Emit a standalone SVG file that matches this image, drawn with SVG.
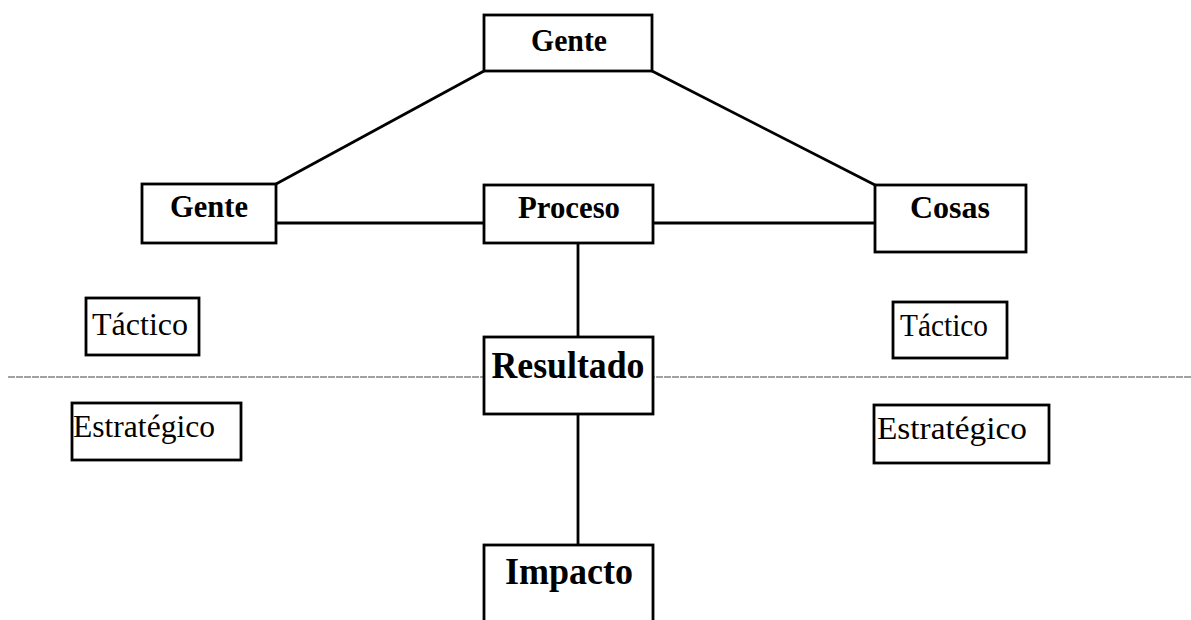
<svg xmlns="http://www.w3.org/2000/svg" width="1191" height="620" viewBox="0 0 1191 620">
<style>
.box{fill:#fff;stroke:#000;stroke-width:2.8}
.ln{stroke:#000;stroke-width:2.8;fill:none}
.sep{stroke:#444;stroke-width:1;stroke-dasharray:7 1}
.t{font-family:"Liberation Serif","Times New Roman",serif;font-weight:bold;text-anchor:middle;fill:#000}
.r{font-family:"Liberation Serif","Times New Roman",serif;text-anchor:middle;fill:#000;font-size:32px}
</style>
<rect width="1191" height="620" fill="#fff"/>
<line class="sep" x1="8" y1="377" x2="1191" y2="377"/>
<g id="connectors">
<line class="ln" x1="484" y1="71" x2="276" y2="184"/>
<line class="ln" x1="652" y1="71" x2="875" y2="185"/>
<line class="ln" x1="276" y1="223" x2="484" y2="223"/>
<line class="ln" x1="653" y1="223" x2="875" y2="223"/>
<line class="ln" x1="578" y1="243" x2="578" y2="337"/>
<line class="ln" x1="578" y1="414" x2="578" y2="545"/>
</g>
<g id="gente-top"><rect class="box" x="484" y="15" width="168" height="56"/><text class="t" x="569" y="51" font-size="32" textLength="76" lengthAdjust="spacingAndGlyphs">Gente</text></g>
<g id="gente-left"><rect class="box" x="142" y="184" width="134" height="59"/><text class="t" x="209" y="217" font-size="32" textLength="78" lengthAdjust="spacingAndGlyphs">Gente</text></g>
<g id="proceso"><rect class="box" x="484" y="185" width="169" height="58"/><text class="t" x="569" y="218" font-size="32" textLength="102" lengthAdjust="spacingAndGlyphs">Proceso</text></g>
<g id="cosas"><rect class="box" x="875" y="185" width="151" height="67"/><text class="t" x="950" y="218" font-size="32" textLength="80" lengthAdjust="spacingAndGlyphs">Cosas</text></g>
<g id="tactico-left"><rect class="box" x="86" y="298" width="113" height="57"/><text class="r" x="140" y="335" textLength="96" lengthAdjust="spacingAndGlyphs">Táctico</text></g>
<g id="estrategico-left"><rect class="box" x="72" y="403" width="169" height="57"/><text class="r" x="144" y="437" textLength="142" lengthAdjust="spacingAndGlyphs">Estratégico</text></g>
<g id="tactico-right"><rect class="box" x="893" y="302" width="114" height="56"/><text class="r" x="944" y="336" textLength="88" lengthAdjust="spacingAndGlyphs">Táctico</text></g>
<g id="estrategico-right"><rect class="box" x="874" y="405" width="175" height="58"/><text class="r" x="952" y="439" textLength="150" lengthAdjust="spacingAndGlyphs">Estratégico</text></g>
<g id="resultado"><rect class="box" x="484" y="337" width="169" height="77"/><text class="t" x="568" y="378" font-size="38" textLength="153" lengthAdjust="spacingAndGlyphs">Resultado</text></g>
<g id="impacto"><rect class="box" x="484" y="545" width="169" height="85"/><text class="t" x="569" y="584" font-size="38" textLength="128" lengthAdjust="spacingAndGlyphs">Impacto</text></g>
</svg>
